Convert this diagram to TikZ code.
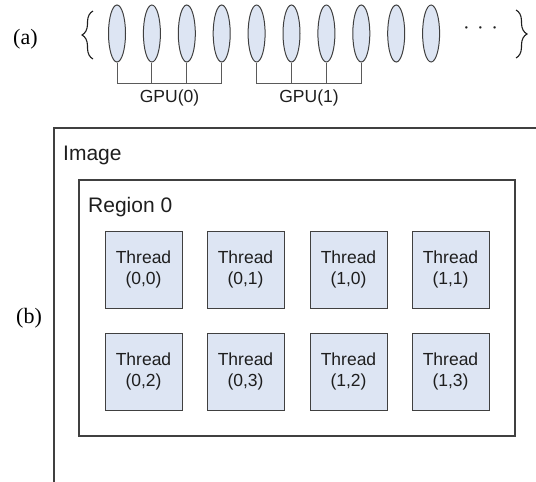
\documentclass[tikz,border=0pt]{standalone}
\usepackage{fontspec}
\setmainfont{Liberation Sans}
\newfontfamily\serifit{Liberation Serif}
\usetikzlibrary{decorations.pathreplacing,shapes.geometric}
\definecolor{cellfill}{RGB}{221,229,243}
\definecolor{edge}{RGB}{64,64,64}
\definecolor{wire}{RGB}{90,90,90}
\definecolor{ink}{RGB}{30,30,30}
\begin{document}
\begin{tikzpicture}[x=1pt,y=-1pt,
  gpu/.style={ellipse,draw=edge,fill=cellfill,line width=1pt,minimum width=17pt,minimum height=57pt,inner sep=0pt},
  cell/.style={rectangle,draw=edge,fill=cellfill,line width=1pt,minimum width=77pt,minimum height=77pt,align=center,text=ink,font=\fontsize{17.5}{21.5}\selectfont,inner sep=0pt},
  lbl/.style={text=ink,font=\fontsize{21}{25}\selectfont,inner sep=0pt,anchor=base west},
  tag/.style={text=black,font=\serifit\fontsize{22}{26}\selectfont,inner sep=0pt,anchor=base west},
  gpulbl/.style={text=ink,font=\fontsize{17.5}{21}\selectfont,inner sep=0pt,anchor=base},
  bracestyle/.style={decorate,decoration={brace,amplitude=11pt},line width=1.1pt,draw=ink},
  wireline/.style={draw=wire,line width=1pt},
  frame/.style={draw=edge,line width=1.2pt}]
\useasboundingbox (0,0) rectangle (536,482);
% ---- (a) ----
\node[tag] (ta) at (13,44) {(a)};
\coordinate (lbT) at (93,11);
\coordinate (lbB) at (93,59);
\draw[bracestyle] (lbB) -- (lbT);
\coordinate (rbT) at (516,10);
\coordinate (rbB) at (516,58);
\draw[bracestyle] (rbT) -- (rbB);
\foreach \i in {0,...,9}{
  \node[gpu] (e\i) at ({117+34.9*\i},33.5) {};
}
\node[text=ink,font=\serifit\fontsize{20}{24}\selectfont,inner sep=0pt] (dots) at (480.5,31) {·\hspace{7.5pt}·\hspace{7.5pt}·};
\coordinate (bar) at (0,83);
\draw[wireline] (e0.south) |- (e3.south |- bar) -- (e3.south);
\draw[wireline] (e1.south) -- (e1.south |- bar);
\draw[wireline] (e2.south) -- (e2.south |- bar);
\draw[wireline] (e4.south) |- (e7.south |- bar) -- (e7.south);
\draw[wireline] (e5.south) -- (e5.south |- bar);
\draw[wireline] (e6.south) -- (e6.south |- bar);
\node[gpulbl] (g0) at (169.5,102) {GPU(0)};
\node[gpulbl] (g1) at (309,102) {GPU(1)};
% ---- (b) ----
\node[tag] (tb) at (16,323) {(b)};
\coordinate (imgBL) at (54,482);
\coordinate (imgTL) at (54,128);
\coordinate (imgTR) at (536,128);
\draw[frame] (imgBL) -- (imgTL) -- (imgTR);
\node[lbl] (imglbl) at (63,160) {Image};
\draw[frame] (79,180) rectangle (515,436);
\node[lbl] (reglbl) at (88,212) {Region 0};
\node[cell] (t00) at (143.5,269.5) {Thread\\(0,0)};
\node[cell] (t01) at (245.5,269.5) {Thread\\(0,1)};
\node[cell] (t10) at (348.5,269.5) {Thread\\(1,0)};
\node[cell] (t11) at (450.5,269.5) {Thread\\(1,1)};
\node[cell] (t02) at (143.5,371.5) {Thread\\(0,2)};
\node[cell] (t03) at (245.5,371.5) {Thread\\(0,3)};
\node[cell] (t12) at (348.5,371.5) {Thread\\(1,2)};
\node[cell] (t13) at (450.5,371.5) {Thread\\(1,3)};
\end{tikzpicture}
\end{document}
